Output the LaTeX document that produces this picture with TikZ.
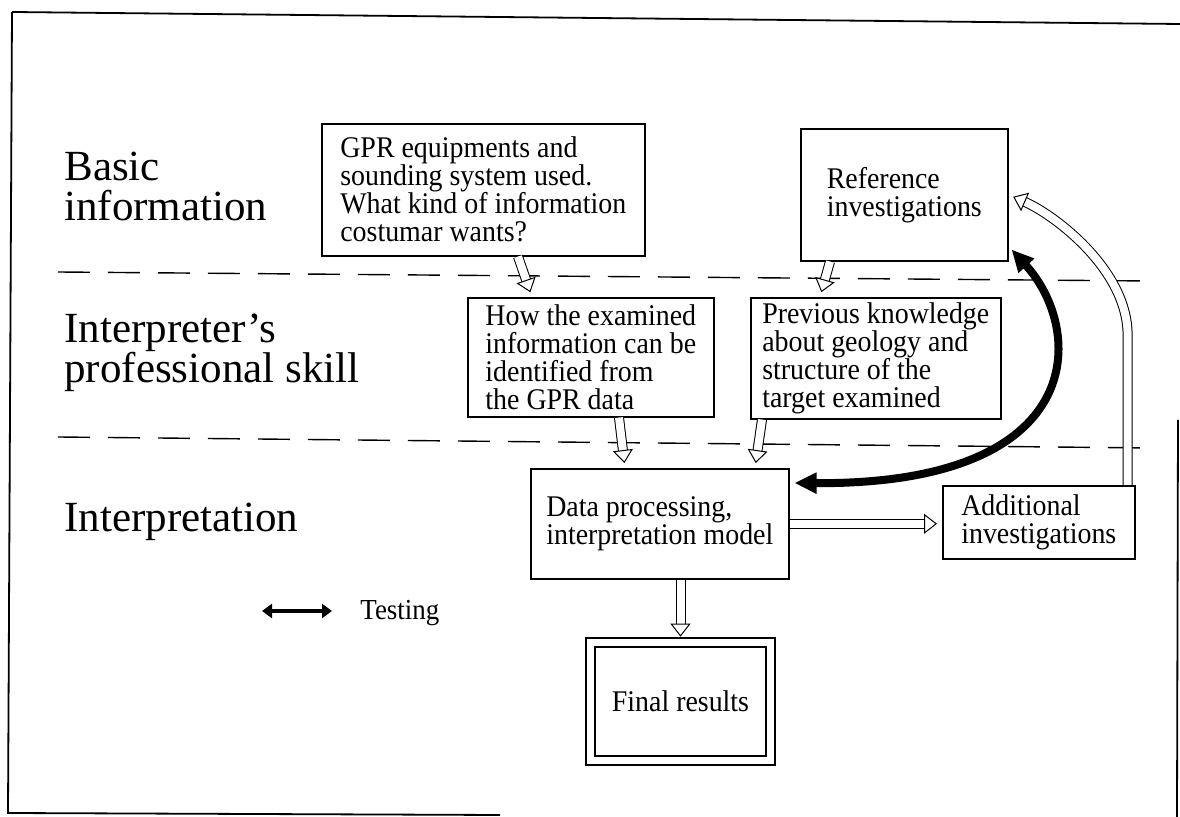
\documentclass[tikz,border=0pt]{standalone}
\usepackage{fontspec}
\setmainfont{Liberation Serif}
\newfontfamily\boxfont[FakeStretch=0.93]{Liberation Serif}
\usetikzlibrary{arrows.meta,calc}

\tikzset{
  frame/.style={line width=0.9pt},
  sep/.style={line width=0.7pt, dash pattern=on 16pt off 9pt},
  box/.style={draw, line width=0.8pt, anchor=north west, align=left,
    inner ysep=0pt, font=\boxfont\fontsize{15pt}{14pt}\selectfont},
  layer/.style={anchor=north west, align=left, inner sep=0pt,
    font=\fontsize{21.5pt}{20pt}\selectfont},
  % white core line carries the open head, the double shaft is drawn below it
  hollow/.style={draw=white, line width=0.5pt, shorten >=2.5pt,
    -{Triangle[color=black, fill=white, length=6.5pt, width=10pt]},
    preaction={draw=black, double=white, double distance=4pt,
      arrows=-, shorten >=8.5pt}},
  testing/.style={line width=4pt,
    {Triangle[length=11pt,width=10pt]}-{Triangle[length=11pt,width=10pt]}}
}

\begin{document}
\begin{tikzpicture}[x=0.5pt,y=-0.5pt]
\useasboundingbox (0,0) rectangle (1180,817);

% page frame
\draw[frame] (12,12) -- (1180,24);
\draw[frame] (12,12) -- (8,813) -- (500,815);
\draw[frame] (1178,420) -- (1177,817);

% layer borders
\draw[sep] (58,272) -- (1150,281);
\draw[sep] (58,437) -- (1153,448);

% layer names
\node[layer] (basic) at (64,152) {Basic\\information};
\node[layer] (skill) at (64,314) {Interpreter's\\professional skill};
\node[layer] (interp) at (64,503) {Interpretation};

% boxes
\node[box, minimum width=161.5pt, minimum height=66pt] (gpr) at (321,123)
  {GPR equipments and\\sounding system used.\\What kind of information\\costumar wants?};
\node[box, minimum width=103.5pt, minimum height=66pt] (ref) at (800,128)
  {Reference\\investigations};
\node[box, minimum width=123pt, minimum height=59.5pt] (ident) at (467,297)
  {How the examined\\information can be\\identified from\\the GPR data};
\node[box, minimum width=125pt, minimum height=60.5pt] (know) at (750,297)
  {Previous knowledge\\about geology and\\structure of the\\target examined};
\node[box, minimum width=129pt, minimum height=55pt] (model) at (530,468)
  {Data processing,\\interpretation model};
\node[box, minimum width=96pt, minimum height=36.5pt] (extra) at (942,485)
  {Additional\\investigations};
\node[box, double, double distance=3.5pt, anchor=center, align=center,
  minimum width=90pt, minimum height=59pt] (final) at (680.5,701.5) {Final results};

% flow
\draw[hollow] ($(gpr.south west)+(197,0)$) -- ($(ident.north west)+(65,0)$);
\draw[hollow] ($(ref.south west)+(30,0)$) -- ($(know.north west)+(70,0)$);
\draw[hollow] ($(ident.south west)+(152,0)$) -- ($(model.north west)+(95,0)$);
\draw[hollow] ($(know.south west)+(12,0)$) -- ($(model.north west)+(225,0)$);
\draw[hollow] (model.east) -- (model.east -| extra.west);
\draw[hollow] (final.north |- model.south) -- (final.north);
\draw[hollow] ($(extra.north east)+(-8,0)$) -- ++(0,-150)
  .. controls +(0,-65) and (1055,215) .. (ref.east);

% testing
\draw[testing] ($(ref.south east)+(3,-12)$) .. controls (1085,330) and (1090,485)
  .. ($(model.north east)+(5,15)$);

% legend
\coordinate (tl) at (262,611);
\coordinate (tr) at (332,611);
\draw[line width=2pt, {Triangle[length=5pt,width=7pt]}-{Triangle[length=5pt,width=7pt]}] (tl) -- (tr);
\node[anchor=base west, inner sep=0pt, font=\boxfont\fontsize{14.5pt}{14pt}\selectfont] (testlbl) at (360,620) {Testing};

\end{tikzpicture}
\end{document}
